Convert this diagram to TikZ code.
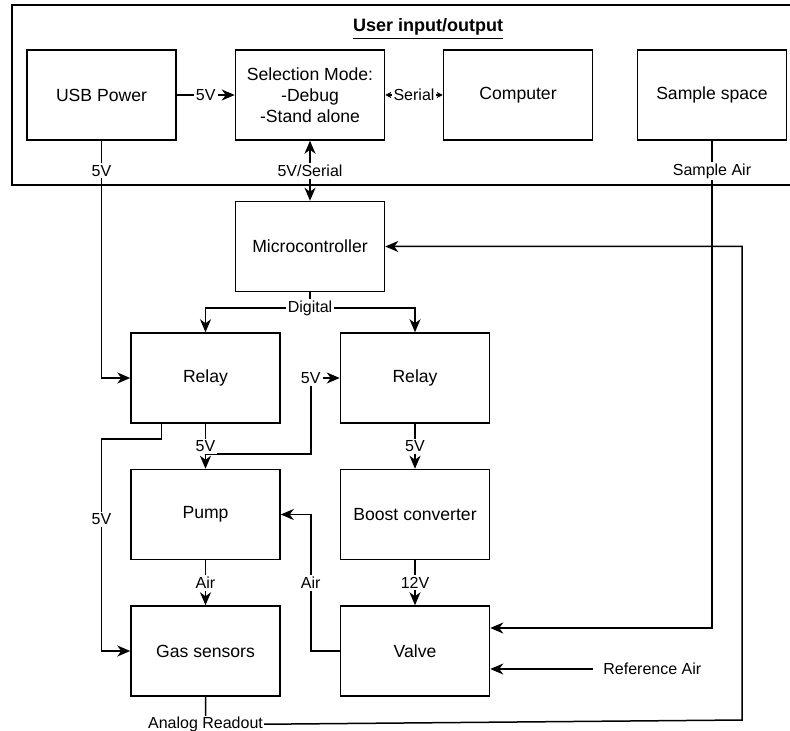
\documentclass[tikz,border=0pt]{standalone}
\usepackage{fontspec}
\setmainfont{Liberation Sans}
\usetikzlibrary{positioning,arrows.meta}

\begin{document}
\begin{tikzpicture}[x=0.5pt, y=-0.5pt,
  font=\fontsize{8.8}{10.5}\selectfont, node distance=22.5pt and 29.5pt,
  box/.style={draw, line width=0.75pt, minimum width=74.5pt, minimum height=45pt, align=center, inner sep=2pt},
  lbl/.style={fill=white, font=\fontsize{8}{9.6}\selectfont, inner sep=1pt},
  wire/.style={line width=0.75pt},
  arr/.style={-{Stealth[length=6.5pt, width=5.5pt, inset=2pt]}, line width=0.75pt},
  biarr/.style={{Stealth[length=6.5pt, width=5.5pt, inset=2pt]}-{Stealth[length=6.5pt, width=5.5pt, inset=2pt]}, line width=0.75pt},
  smallbi/.style={{Stealth[length=3pt, width=3pt, inset=0.8pt]}-{Stealth[length=3pt, width=3pt, inset=0.8pt]}, line width=0.75pt}]
\useasboundingbox (0,0) rectangle (790,731);
% user side frame
\draw[wire] (12,5) rectangle (800,185);
\node[font=\fontsize{9}{10}\selectfont\bfseries] (ttl) at (428,29) {\underline{User input/output}};
\node[box] (usb) at (101.5,95) {USB Power};
\node[box] (sel) at (310,95) {Selection Mode:\\-Debug\\-Stand alone};
\node[box] (pc) at (518,95) {Computer};
\node[box] (smp) at (712,95) {Sample space};
% control and power
\node[box, below=30pt of sel] (mcu) {Microcontroller};
\node[box] (rl1) at (205.5,378) {Relay};
\node[box, right=of rl1] (rl2) {Relay};
\node[box, below=of rl1] (pump) {Pump};
\node[box, below=of rl2] (boost) {Boost converter};
\node[box, below=of pump] (gas) {Gas sensors};
\node[box, below=of boost] (valve) {Valve};
\node[lbl, anchor=west, inner sep=5pt] (ref) at (593,669) {Reference Air};
\coordinate (dsplit) at ([yshift=-8pt]mcu.south);
\coordinate (aro) at ([yshift=-14pt]gas.south);
\coordinate (ret) at (742,720);
% connectors
\draw[arr] (usb) -- node[lbl] {5V} (sel);
\draw[smallbi] (sel) -- node[lbl] {Serial} (pc);
\draw[biarr] (sel) -- node[lbl] {5V/Serial} (mcu);
\draw[arr] (usb.south) |- node[lbl, pos=0.063] {5V} (rl1.west);
\draw[arr] (smp.south) |- node[lbl, pos=0.031] {Sample Air} ([yshift=11.5pt]valve.east);
\draw[wire] (mcu.south) -- (dsplit);
\draw[arr] (dsplit) -| (rl1.north);
\draw[arr] (dsplit) -| (rl2.north);
\node[lbl] at (dsplit) {Digital};
\draw[arr] (rl1.south) -- ++(0,30) -| ([xshift=-14.5pt]rl2.west) node[lbl] {5V} -- (rl2.west);
\draw[arr] (rl1) -- node[lbl] {5V} (pump);
\draw[arr] ([xshift=-22pt]rl1.south) -- ++(0,15) -- ++(-60,0) -- node[lbl, pos=0.38] {5V} (usb.south |- gas.west) -- (gas.west);
\draw[arr] (rl2) -- node[lbl] {5V} (boost);
\draw[arr] (pump) -- node[lbl] {Air} (gas);
\draw[arr] (boost) -- node[lbl] {12V} (valve);
\draw[arr] (valve.west) -- ++(-29,0) |- node[lbl, pos=0.25] {Air} (pump.east);
\draw[arr] (ref.west) -- (valve.east |- ref.west);
\draw[arr] (gas.south) -- (aro) -- (ret) |- (mcu.east);
\node[lbl, inner sep=0.5pt] at (aro) {Analog Readout};
\end{tikzpicture}
\end{document}
